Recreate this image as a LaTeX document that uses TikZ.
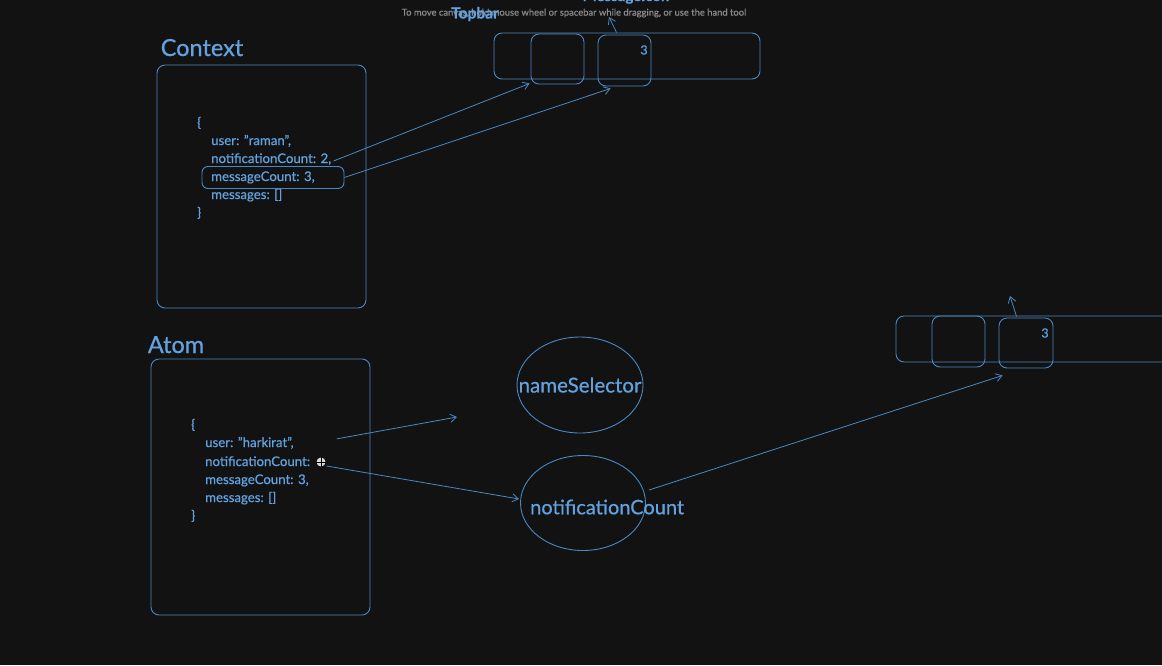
\documentclass[tikz,border=0pt]{standalone}
\usepackage{fontspec}
\setmainfont{Lato}[FakeBold=0.6]
\usetikzlibrary{arrows.meta,calc,shapes.geometric}
\definecolor{bg}{HTML}{121212}
\definecolor{ln}{HTML}{4A88C4}
\definecolor{tx}{HTML}{62A2E0}
\definecolor{tip}{HTML}{8A8A8A}
\tikzset{
  box/.style={draw=ln, line width=0.9pt, rounded corners=8pt, inner sep=0pt},
  oval/.style={draw=ln, line width=0.9pt, ellipse, inner sep=0pt},
  title/.style={text=tx, font=\fontsize{23.5}{26}\selectfont, inner sep=0pt},
  code/.style={text=tx, font=\fontsize{13.2}{15}\selectfont, inner sep=0pt, anchor=base west},
  lbl/.style={text=tx, font=\fontsize{20.5}{23}\selectfont, inner sep=0pt},
  conn/.style={draw=ln, line width=0.8pt, -{Straight Barb[length=6pt,width=8pt]}},
}
\begin{document}
\begin{tikzpicture}[x=1pt,y=-1pt]
\useasboundingbox (0,0) rectangle (1162,665);
\clip (0,0) rectangle (1162,665);
\fill[bg] (0,0) rectangle (1162,665);

% top tooltip and labels
\node[text=tip, font=\fontsize{9.4}{11}\selectfont, inner sep=0pt] (tooltip) at (574,13) {To move canvas, hold mouse wheel or spacebar while dragging, or use the hand tool};
\node[text=tx, font=\bfseries\fontsize{15}{17}\selectfont, inner sep=0pt, anchor=base] (msgicon) at (626,1) {MessageIcon};
\node[text=tx, font=\bfseries\fontsize{15.5}{18}\selectfont, inner sep=0pt] (topbar) at (475,14) {Topbar};

% top bar
\node[box, minimum width=266pt, minimum height=46pt] (tbar) at (627,56) {};
\node[box, minimum width=53pt, minimum height=50pt] (tin1) at (557.5,59) {};
\node[box, minimum width=53pt, minimum height=51pt] (tin2) at (624.5,60.5) {};
\node[text=tx, font=\fontsize{12.5}{14}\selectfont, inner sep=0pt] (three1) at (644,50) {3};
\coordinate (up1) at (609,17);
\draw[conn] ($(tin2.north west)+(19,-2)$) -- (up1);

% Context
\node[title, anchor=base] (ctxt) at (202,56) {Context};
\node[box, minimum width=209pt, minimum height=243pt] (ctx) at (261.5,186.5) {};
\node[code] (c0) at (197,127) {\{};
\node[code] (c1) at (211,145) {user: "raman",};
\node[code] (c2) at (211,163) {notificationCount: 2,};
\node[code] (c3) at (211,181) {messageCount: 3,};
\node[code] (c4) at (211,199) {messages: []};
\node[code] (c5) at (197,217) {\}};
\node[box, rounded corners=6pt, minimum width=142pt, minimum height=22pt] (hl) at (273,177.5) {};

\draw[conn] ($(c2.east)+(2,2)$) -- ($(tin1.south west)+(-1,-1)$);
\draw[conn] (hl.east) -- ($(tin2.south west)+(13,2)$);

% Atom
\node[title, anchor=base] (atomt) at (176,353) {Atom};
\node[box, minimum width=219pt, minimum height=256pt] (atom) at (260.5,487) {};
\node[code] (a0) at (191,429) {\{};
\node[code] (a1) at (205,447) {user: "harkirat",};
\node[code] (a2) at (205,466) {notificationCount:};
\node[code] (a3) at (205,484) {messageCount: 3,};
\node[code] (a4) at (205,502) {messages: []};
\node[code] (a5) at (191,520) {\}};
% cursor icon
\node[circle, fill=white!85!black, minimum size=9pt, inner sep=0pt] (cursor) at (321,462) {};
\draw[black, line width=0.7pt] (cursor.north) -- (cursor.south) (cursor.west) -- (cursor.east);

% ellipses
\node[oval, minimum width=126pt, minimum height=96pt] (ns) at (580,385) {};
\node[lbl] (nst) at (580,385) {nameSelector};
\node[oval, minimum width=125pt, minimum height=95pt] (nc) at (583,503) {};
\node[lbl, anchor=west, font=\fontsize{20}{23}\selectfont] (nct) at (530,507) {notificationCount};

\coordinate (free1) at (457,417);
\draw[conn] ($(a1.east)+(43,-4)$) -- (free1);
\draw[conn] ($(cursor.east)+(1,4)$) -- ($(nc.west)+(-1,-4)$);

% right bar
\node[box, minimum width=290pt, minimum height=46pt] (rbar) at (1041,339) {};
\node[box, minimum width=53pt, minimum height=51pt] (rin1) at (958.5,341.5) {};
\node[box, minimum width=54pt, minimum height=50pt] (rin2) at (1026,343) {};
\node[text=tx, font=\fontsize{12.5}{14}\selectfont, inner sep=0pt] (three2) at (1045,333) {3};
\coordinate (up2) at (1010,296);
\draw[conn] ($(rin2.north west)+(18,-1)$) -- (up2);

\draw[conn] ($(nc.east)+(3,-13)$) -- ($(rin2.south west)+(4,7)$);
\end{tikzpicture}
\end{document}
